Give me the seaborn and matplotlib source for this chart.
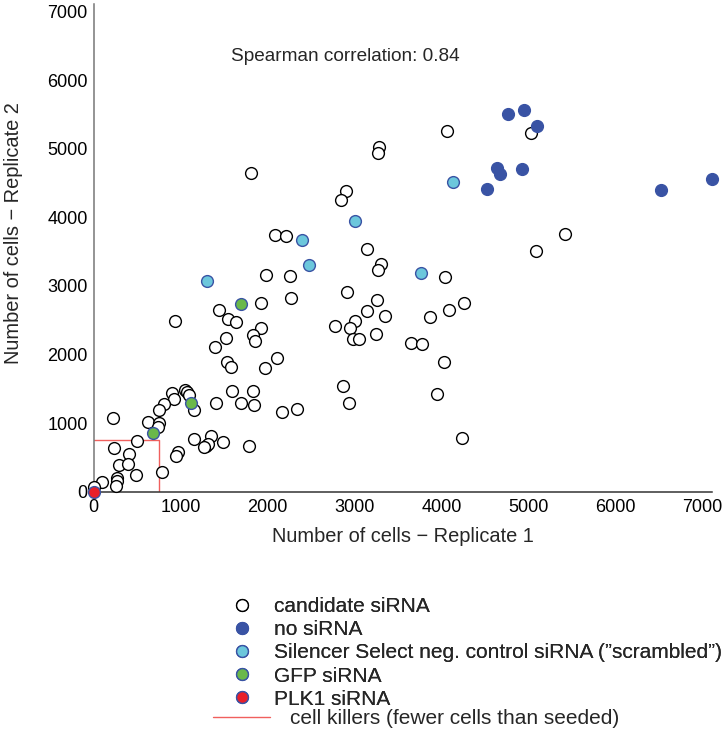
import pandas as pd
import seaborn as sns
import matplotlib.pyplot as plt
from matplotlib.lines import Line2D

candidate_rep1 = [4064, 3287, 3276, 1807, 2903, 2845, 5032, 2080, 2215, 3149,
                  3307, 3268, 4040, 1984, 2261, 2272, 2915, 1923, 1438, 3261,
                  3141, 3348, 3010, 2953, 2776, 3249, 2979, 3048, 3875, 4087,
                  934, 1542, 1634, 1923, 1834, 1857, 1519, 1396, 3645, 3780,
                  5087, 4264, 4033, 2864, 2941, 3945, 4241, 5421, 2103, 1537,
                  1577, 1972, 1595, 1834, 1411, 1699, 1845, 2163, 2341, 896,
                  923, 1046, 1076, 1096, 807, 750, 1153, 626, 755, 735,
                  1153, 1346, 1288, 1315, 1269, 1491, 1788, 972, 949, 784,
                  216, 502, 231, 400, 292, 389, 481, 269, 262, 254, 96, 0]
candidate_rep2 = [5265, 5021, 4934, 4652, 4390, 4258, 5225, 3738, 3723, 3539,
                  3321, 3233, 3125, 3160, 3140, 2829, 2912, 2746, 2654, 2796,
                  2629, 2557, 2484, 2382, 2417, 2300, 2227, 2227, 2552, 2654,
                  2494, 2513, 2479, 2387, 2285, 2198, 2241, 2104, 2163, 2154,
                  3510, 2752, 1896, 1541, 1288, 1419, 783, 3752, 1950, 1886,
                  1823, 1801, 1463, 1466, 1288, 1298, 1264, 1159, 1207, 1434,
                  1349, 1483, 1448, 1415, 1279, 1191, 1191, 1011, 999, 938,
                  769, 817, 671, 696, 646, 729, 671, 573, 525, 292,
                  1075, 734, 634, 554, 394, 398, 248, 197, 153, 90, 136, 73]

nosirna_rep1 = [4767, 4956, 5098, 4640, 4679, 4928, 4529, 6532, 7110]
nosirna_rep2 = [5513, 5571, 5327, 4721, 4638, 4711, 4419, 4400, 4565]

scrambled_rep1 = [4137, 3002, 2399, 2480, 3766, 1298]
scrambled_rep2 = [4517, 3942, 3671, 3310, 3191, 3073]

gfp_rep1 = [1690, 1122, 683]
gfp_rep2 = [2732, 1294, 850]

plk1_rep1 = [0]
plk1_rep2 = [0]

seeded = 750
spearman = 0.84

group_labels = ["candidate siRNA", "no siRNA",
                "Silencer Select neg. control siRNA (\u201dscrambled\u201d)",
                "GFP siRNA", "PLK1 siRNA"]
killer_label = "cell killers (fewer cells than seeded)"

BLUE = "#3953a4"
styles = [
    ("white", "black"),
    (BLUE, BLUE),
    ("#6cc7dc", BLUE),
    ("#6ab84a", BLUE),
    ("#e8202a", BLUE),
]
RED_LINE = "#f0605d"

groups = [
    (candidate_rep1, candidate_rep2),
    (nosirna_rep1, nosirna_rep2),
    (scrambled_rep1, scrambled_rep2),
    (gfp_rep1, gfp_rep2),
    (plk1_rep1, plk1_rep2),
]

sns.set_theme(style="white")
plt.rcParams["font.family"] = ["Liberation Sans", "DejaVu Sans"]

W, H = 726, 729
fig = plt.figure(figsize=(W / 100, H / 100), dpi=100)
ax = fig.add_axes([93.8 / W, 1 - 491.7 / H, (712 - 93.8) / W, (491.7 - 4) / H])

# seeding threshold box
ax.plot([0, seeded, seeded], [seeded, seeded, 0], color=RED_LINE, lw=1.0, zorder=1)

for (r1, r2), label, (face, edge) in zip(groups, group_labels, styles):
    df = pd.DataFrame({"rep1": r1, "rep2": r2})
    sns.scatterplot(data=df, x="rep1", y="rep2", ax=ax, s=72,
                    color=face, edgecolor=edge, linewidth=1.0,
                    clip_on=False, zorder=3, legend=False)

ax.set_xlim(0, 7115)
ax.set_ylim(0, 7110)
ax.set_xticks(range(0, 7001, 1000))
ax.set_yticks(range(0, 7001, 1000))

for side in ["top", "right"]:
    ax.spines[side].set_visible(False)
ax.spines["left"].set_color("#777777")
ax.spines["bottom"].set_color("#333333")
ax.spines["left"].set_linewidth(1.1)
ax.spines["bottom"].set_linewidth(1.1)
ax.tick_params(axis="both", direction="in", length=5, width=1, labelsize=13,
               colors="black")
ax.tick_params(axis="y", color="#777777", pad=4.5)
ax.tick_params(axis="x", color="#333333", pad=5)

ax.set_xlabel("Number of cells \u2212 Replicate 1", fontsize=14.4, labelpad=8)
ax.set_ylabel("Number of cells \u2212 Replicate 2", fontsize=14.4)
ax.yaxis.set_label_coords(-0.1146, 0.53)

ax.text(2890, 6350, f"Spearman correlation: {spearman}", fontsize=13.7,
        ha="center", va="center")

handles = [Line2D([], [], ls="none", marker="o", markersize=8.5,
                  markerfacecolor=f, markeredgecolor=e, markeredgewidth=1.0)
           for f, e in styles]
leg1 = fig.legend(handles, group_labels, loc="upper left",
                  bbox_to_anchor=(213 / W, 1 - 597 / H), frameon=False,
                  fontsize=15, borderpad=0, borderaxespad=0, labelspacing=0.2,
                  handlelength=2.74, handletextpad=0.2)
fig.legend([Line2D([], [], color=RED_LINE, lw=1.0)], [killer_label],
           loc="upper left", bbox_to_anchor=(213 / W, 1 - 709 / H),
           frameon=False, fontsize=15, borderpad=0, borderaxespad=0,
           handlelength=2.74, handletextpad=0.96)
fig.add_artist(leg1)

fig.savefig("out.png", dpi=100)
